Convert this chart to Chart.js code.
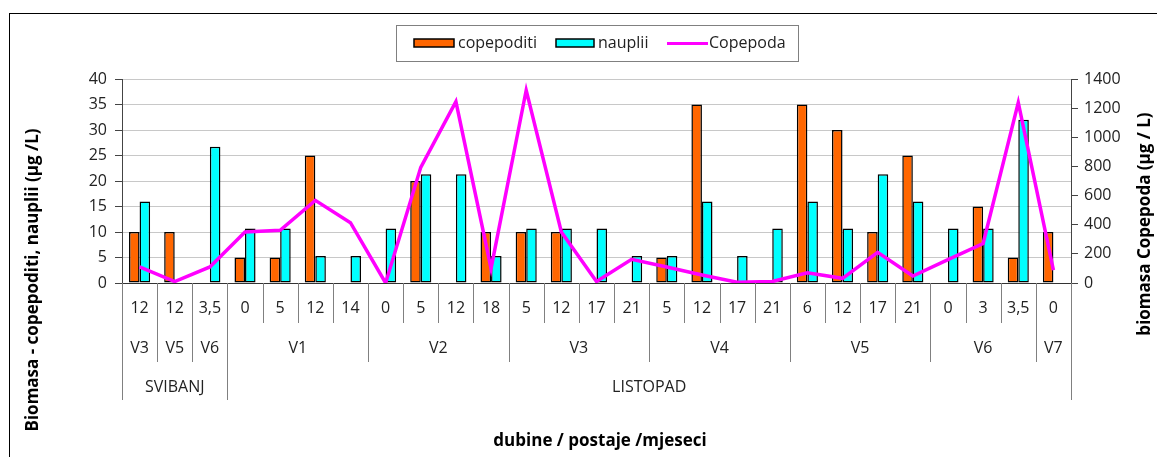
<!DOCTYPE html>
<html>
<head>
<meta charset="utf-8">
<script src="https://cdn.jsdelivr.net/npm/chart.js@4.4.1/dist/chart.umd.min.js"></script>
<style>
  html, body { margin: 0; padding: 0; background: #fff; }
  canvas { display: block; }
</style>
</head>
<body>
<canvas id="biomasaChart" width="1157" height="457"></canvas>
<script>
// depth labels (first row under the axis)
const depthLabels = ["12","12","3,5","0","5","12","14","0","5","12","18","5","12","17","21","5","12","17","21","6","12","17","21","0","3","3,5","0"];
// stations (second row) and how many depths each covers
const stationLabels = ["V3","V5","V6","V1","V2","V3","V4","V5","V6","V7"];
const stationSpans = [1,1,1,4,4,4,4,4,3,1];
// months (third row)
const monthLabels = ["SVIBANJ","LISTOPAD"];
const monthSpans = [3,24];

const copepoditi = [10,10,0,5,5,25,0,0,20,0,10,10,10,0,0,5,35,0,0,35,30,10,25,0,15,5,10];
const nauplii = [16,0,26.7,10.7,10.7,5.3,5.3,10.7,21.3,21.3,5.3,10.7,10.7,10.7,5.3,5.3,16,5.3,10.7,16,10.7,21.3,16,10.7,10.7,32,0];
const copepoda = [110,10,110,350,362,567,414,0,794,1245,100,1323,350,10,162,110,55,5,10,70,32,210,48,160,271,1238,89];

const leftTicks = [0,40,5];
const rightTicks = [0,1400,200];

const FONT = "'Open Sans', 'DejaVu Sans', sans-serif";
const textColor = "#222";
const lineGray = "#808080";

function boundaries(spans) {
    let out = [0], s = 0;
    spans.forEach(function(n){ s += n; out.push(s); });
    return out;
}

const decorPlugin = {
    id: "decor",
    beforeDraw(chart) {
        const ctx = chart.ctx;
        ctx.save();
        ctx.fillStyle = "#fff";
        ctx.fillRect(0, 0, chart.width, chart.height);
        ctx.strokeStyle = "#000";
        ctx.lineWidth = 1;
        ctx.strokeRect(9.5, 13.5, 1300, 600);
        ctx.restore();
    },
    afterDraw(chart) {
        const ctx = chart.ctx;
        const xs = chart.scales.x;
        const area = chart.chartArea;
        const step = (xs.right - xs.left) / depthLabels.length;
        const edge = function(i){ return xs.left + step * i; };

        const stationB = boundaries(stationSpans);
        const monthB = boundaries(monthSpans);

        ctx.save();
        // separator lines of the category table
        ctx.strokeStyle = lineGray;
        ctx.lineWidth = 1;
        for (let i = 0; i <= depthLabels.length; i++) {
            let y2 = 323;
            if (stationB.includes(i)) y2 = 362;
            if (monthB.includes(i)) y2 = 400;
            const px = Math.round(edge(i)) + 0.5;
            ctx.beginPath();
            ctx.moveTo(px, area.bottom);
            ctx.lineTo(px, y2);
            ctx.stroke();
        }

        // station + month labels
        ctx.fillStyle = textColor;
        ctx.font = "16px " + FONT;
        ctx.textAlign = "center";
        ctx.textBaseline = "middle";
        stationLabels.forEach(function(lab, k){
            ctx.fillText(lab, (edge(stationB[k]) + edge(stationB[k+1])) / 2, 348);
        });
        monthLabels.forEach(function(lab, k){
            ctx.fillText(lab, (edge(monthB[k]) + edge(monthB[k+1])) / 2, 387);
        });

        // axis titles
        ctx.font = "bold 17px " + FONT;
        ctx.fillStyle = "#000";
        ctx.fillText("dubine / postaje /mjeseci", 600, 441);

        ctx.save();
        ctx.translate(33, 280);
        ctx.rotate(-Math.PI / 2);
        ctx.fillText("Biomasa - copepoditi, nauplii (µg /L)", 0, 0);
        ctx.restore();

        ctx.save();
        ctx.translate(1145, 224);
        ctx.rotate(-Math.PI / 2);
        ctx.fillText("biomasa Copepoda (µg / L)", 0, 0);
        ctx.restore();

        // legend
        ctx.strokeStyle = "#808080";
        ctx.lineWidth = 1;
        ctx.strokeRect(396.5, 25.5, 402, 36);
        ctx.font = "16px " + FONT;
        ctx.textAlign = "left";
        ctx.fillStyle = "#FF6600";
        ctx.fillRect(414, 39, 40, 8);
        ctx.strokeStyle = "#000";
        ctx.lineWidth = 1.5;
        ctx.strokeRect(414, 39, 40, 8);
        ctx.fillStyle = "#00FFFF";
        ctx.fillRect(556, 39, 38, 8);
        ctx.strokeRect(556, 39, 38, 8);
        ctx.strokeStyle = "#FF00FF";
        ctx.lineWidth = 3;
        ctx.beginPath();
        ctx.moveTo(667, 43.5);
        ctx.lineTo(708, 43.5);
        ctx.stroke();
        ctx.fillStyle = textColor;
        ctx.fillText("copepoditi", 458, 43);
        ctx.fillText("nauplii", 598, 43);
        ctx.fillText("Copepoda", 709, 43);

        ctx.restore();
    }
};

const ctx = document.getElementById("biomasaChart").getContext("2d");

new Chart(ctx, {
    data: {
        labels: depthLabels,
        datasets: [
            {
                type: "line",
                label: "Copepoda",
                data: copepoda,
                yAxisID: "yRight",
                borderColor: "#FF00FF",
                backgroundColor: "#FF00FF",
                borderWidth: 3.5,
                pointRadius: 0,
                tension: 0,
                fill: false,
                order: 0,
            },
            {
                type: "bar",
                label: "copepoditi",
                data: copepoditi,
                yAxisID: "yLeft",
                backgroundColor: "#FF6600",
                borderColor: "#000",
                borderWidth: 1.5,
                borderSkipped: false,
                categoryPercentage: 0.6,
                barPercentage: 1.0,
                order: 1,
            },
            {
                type: "bar",
                label: "nauplii",
                data: nauplii,
                yAxisID: "yLeft",
                backgroundColor: "#00FFFF",
                borderColor: "#000",
                borderWidth: 1.5,
                borderSkipped: false,
                categoryPercentage: 0.6,
                barPercentage: 1.0,
                order: 1,
            },
        ],
    },
    options: {
        responsive: false,
        animation: false,
        devicePixelRatio: 1,
        layout: { padding: { top: 79, left: 0, right: 0, bottom: 0 } },
        plugins: {
            legend: { display: false },
            tooltip: { enabled: false },
        },
        scales: {
            x: {
                offset: true,
                grid: { display: false, drawTicks: false },
                border: { display: true, color: "#333", width: 1 },
                ticks: {
                    color: textColor,
                    font: { family: FONT, size: 16 },
                    padding: 16,
                    autoSkip: false,
                    maxRotation: 0,
                },
                afterFit: function(scale){ scale.height = 174; },
            },
            yLeft: {
                position: "left",
                min: leftTicks[0],
                max: leftTicks[1],
                ticks: {
                    stepSize: leftTicks[2],
                    color: textColor,
                    font: { family: FONT, size: 16 },
                    padding: 8,
                },
                grid: { color: "#c8c8c8", tickColor: "#444", tickLength: 7 },
                border: { color: "#444", width: 1 },
                afterFit: function(scale){ scale.width = 122; },
            },
            yRight: {
                position: "right",
                min: rightTicks[0],
                max: rightTicks[1],
                ticks: {
                    stepSize: rightTicks[2],
                    color: textColor,
                    font: { family: FONT, size: 16 },
                    padding: 6,
                    callback: function(v){ return String(v); },
                },
                grid: { drawOnChartArea: false, tickColor: "#444", tickLength: 7 },
                border: { color: "#444", width: 1 },
                afterFit: function(scale){ scale.width = 86; },
            },
        },
    },
    plugins: [decorPlugin],
});
</script>
</body>
</html>
